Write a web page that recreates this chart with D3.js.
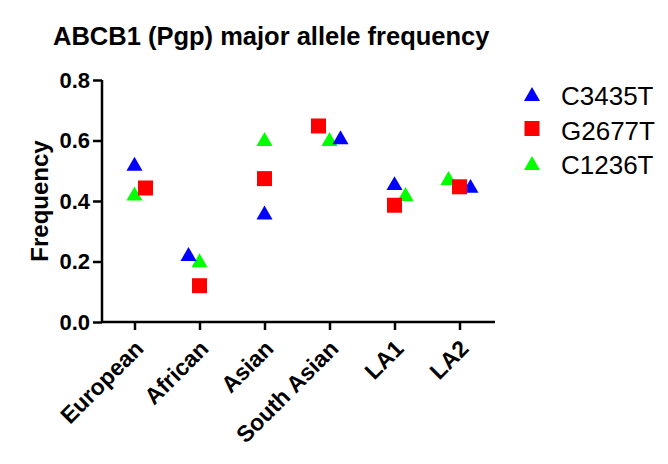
<!DOCTYPE html>
<html>
<head>
<meta charset="utf-8">
<script src="https://cdnjs.cloudflare.com/ajax/libs/d3/7.8.5/d3.min.js"></script>
<style>
  body { margin: 0; background: #fff; }
  text { font-family: Arial, "Liberation Sans", sans-serif; }
</style>
</head>
<body>
<div id="chart"></div>
<script>
// data
var categories = ["European", "African", "Asian", "South Asian", "LA1", "LA2"];
var seriesNames = ["C3435T", "G2677T", "C1236T"];
var c3435t = [0.523, 0.225, 0.362, 0.611, 0.459, 0.450];
var g2677t = [0.443, 0.120, 0.474, 0.648, 0.386, 0.447];
var c1236t = [0.425, 0.204, 0.605, 0.605, 0.423, 0.476];
var yTicks = [0.0, 0.2, 0.4, 0.6, 0.8];
// side-by-side nudge for overlapping points (-1 left, 0 centre, 1 right)
var dodge = [
  [0, -1, 0, 1, 0, 1],
  [1, 0, 0, -1, 0, 0],
  [0, 0, 0, 0, 1, -1]
];

var width = 668, height = 464
  , margin = {top: 80, right: 173, bottom: 142, left: 102}
  , colors = ["#0000ff", "#ff0000", "#00ff00"]
  , shapes = [d3.symbolTriangle, d3.symbolSquare, d3.symbolTriangle]
  , sizes = [112, 225, 112]
  , dodgeStep = 11;

var values = [c3435t, g2677t, c1236t];

var svg = d3.select("#chart").append("svg")
    .attr("width", width)
    .attr("height", height);

var xScale = d3.scalePoint()
    .domain(categories)
    .range([margin.left, 492])
    .padding(0.5);

var yScale = d3.scaleLinear()
    .domain([0, 0.8])
    .range([height - margin.bottom, margin.top]);

// title
svg.append("text")
    .attr("x", 53)
    .attr("y", 45)
    .style("font-size", "25.5px")
    .style("font-weight", "bold")
    .text("ABCB1 (Pgp) major allele frequency");

// y axis
var yAxis = svg.append("g")
    .attr("transform", "translate(" + margin.left + ",0)")
    .call(d3.axisLeft(yScale).tickValues(yTicks).tickFormat(d3.format(".1f")).tickSize(9).tickPadding(3));

yAxis.select(".domain").attr("stroke", "#000").attr("stroke-width", 2.5)
    .attr("d", "M0," + (yScale(0) + 1) + "V" + yScale(0.8));
yAxis.selectAll(".tick line").attr("stroke-width", 2.5);
yAxis.selectAll(".tick text")
    .style("font-size", "22px")
    .style("font-weight", "bold")
    .attr("fill", "#000");

svg.append("text")
    .attr("transform", "translate(48," + yScale(0.4) + ") rotate(-90)")
    .attr("text-anchor", "middle")
    .style("font-size", "24px")
    .style("font-weight", "bold")
    .text("Frequency");

// x axis
var xAxis = svg.append("g")
    .attr("transform", "translate(0," + yScale(0) + ")")
    .call(d3.axisBottom(xScale).tickSize(8).tickSizeOuter(0));

xAxis.select(".domain").attr("stroke", "#000").attr("stroke-width", 2.5)
    .attr("d", "M" + (margin.left - 1) + ",0H495");
xAxis.selectAll(".tick line").attr("stroke-width", 2.5);
xAxis.selectAll(".tick text")
    .attr("text-anchor", "end")
    .attr("dy", null)
    .attr("y", 0)
    .attr("transform", "translate(10,28) rotate(-45)")
    .style("font-size", "23px")
    .style("font-weight", "bold")
    .attr("fill", "#000");

// symbol path, triangles nudged so their box is centred on the value
function symbolPath(i) {
  return d3.symbol().type(shapes[i]).size(sizes[i])();
}
function symbolShift(i) {
  if (shapes[i] === d3.symbolTriangle) {
    var side = Math.sqrt(sizes[i] * 4 / Math.sqrt(3));
    return side * Math.sqrt(3) / 2 / 6;
  }
  return 0;
}

// points, drawn so that later series sit on top like in the original
var drawOrder = [2, 0, 1];
drawOrder.forEach(function(s) {
  svg.append("g").attr("class", "series-" + s)
    .selectAll("path")
    .data(values[s])
    .enter()
    .append("path")
      .attr("d", symbolPath(s))
      .attr("fill", colors[s])
      .attr("transform", function(d, i) {
        var x = xScale(categories[i]) + dodge[s][i] * dodgeStep;
        var y = yScale(d) + symbolShift(s);
        return "translate(" + x + "," + y + ")";
      });
});

// legend
var legend = svg.append("g").attr("transform", "translate(532,94)");
seriesNames.forEach(function(name, i) {
  var row = legend.append("g").attr("transform", "translate(0," + (i * 34.5) + ")");
  row.append("path")
    .attr("d", symbolPath(i))
    .attr("transform", "translate(0," + symbolShift(i) + ")")
    .attr("fill", colors[i]);
  row.append("text")
    .attr("x", 29)
    .attr("y", 11)
    .style("font-size", "26px")
    .text(name);
});
</script>
</body>
</html>
